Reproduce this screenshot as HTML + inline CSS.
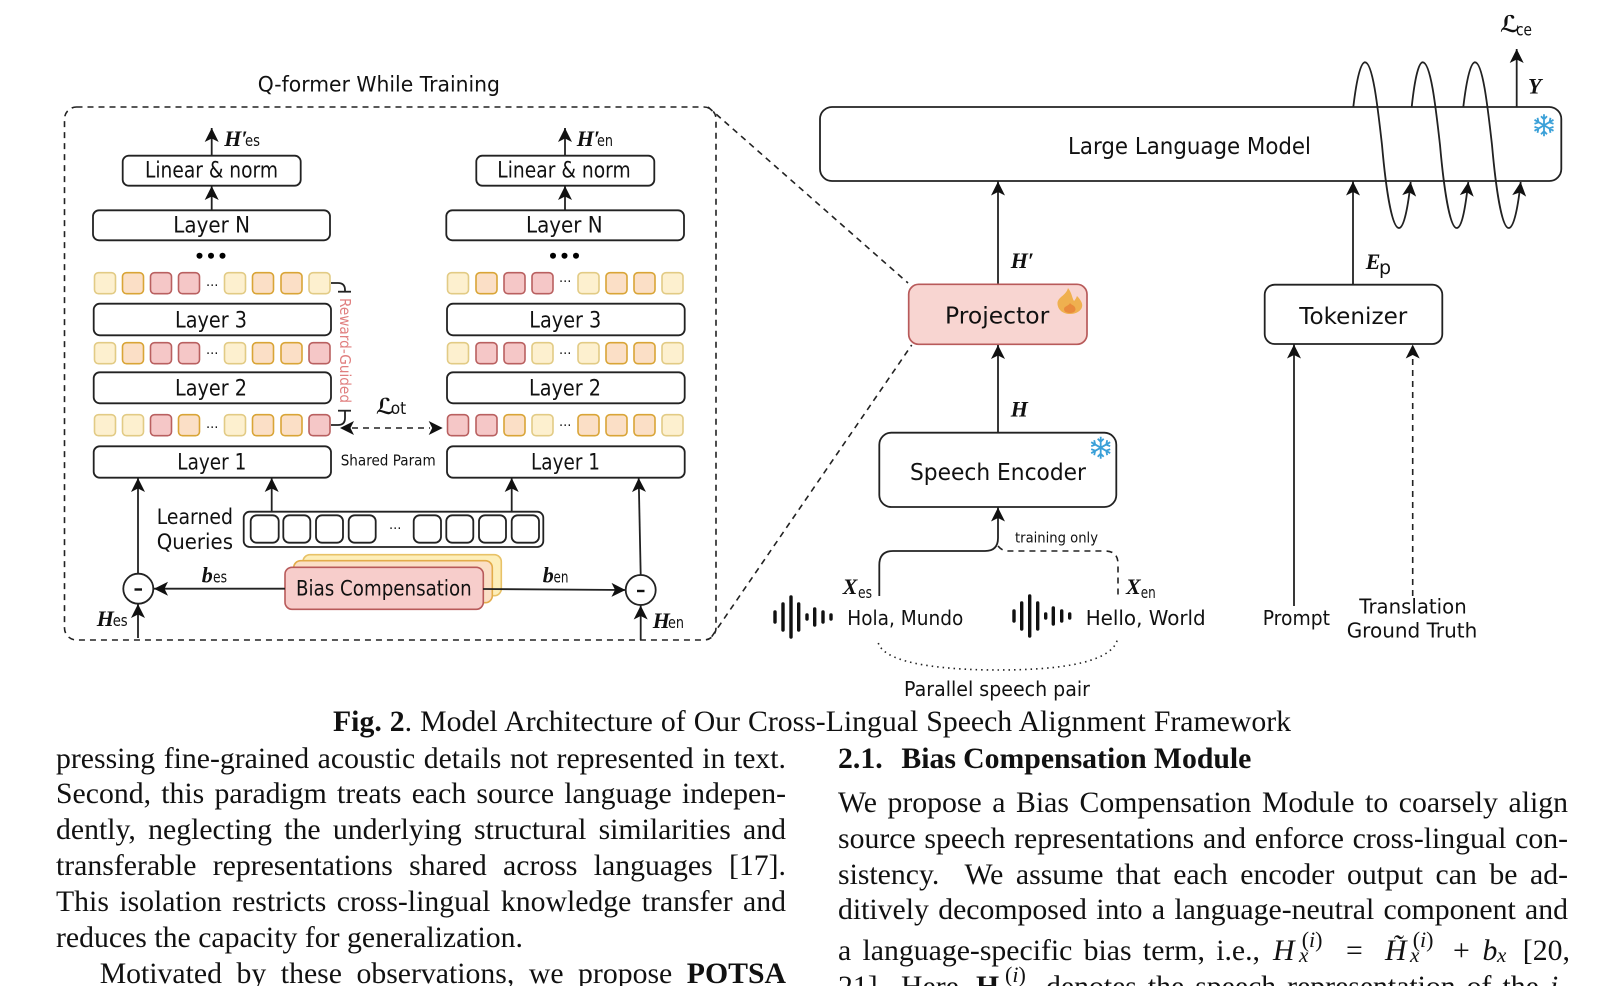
<!DOCTYPE html>
<html><head><meta charset="utf-8">
<style>
html,body{margin:0;padding:0;background:#fff}
#p{position:relative;width:1621px;height:986px;overflow:hidden;background:#fff}
svg{position:absolute;left:0;top:0}
.t{position:absolute;font-family:"Liberation Serif",serif;font-size:29.75px;line-height:36px;height:36px;color:#111;text-align:justify;text-align-last:justify;word-spacing:-4px;overflow:hidden}
.m{position:absolute;font-family:"Liberation Serif",serif;color:#111;white-space:pre;line-height:36px}
.i{font-style:italic}
text{font-family:"DejaVu Sans",sans-serif;fill:#111}
.l{stroke:#222;stroke-width:1.8;fill:none}
.a{stroke:#222;stroke-width:1.8;fill:none;marker-end:url(#ah)}
.d{stroke:#222;stroke-width:1.6;fill:none;stroke-dasharray:6 5}
.b{stroke:#222;stroke-width:1.8;fill:#fff}
.y{fill:#fdf0cf;stroke:#e2cb85;stroke-width:1.6}
.o{fill:#fbdfc6;stroke:#d9a537;stroke-width:1.6}
.r{fill:#f5c7c7;stroke:#b96060;stroke-width:1.6}
.mb{font-family:"Liberation Serif",serif;font-weight:bold;font-style:italic;font-size:22px}
.s{font-size:16px}
.w{stroke:#111;stroke-width:3.4;stroke-linecap:round}
.sf{stroke:#3aa0d8;stroke-width:1.8;fill:none}
</style></head><body><div id="p">
<svg width="1621" height="986" viewBox="0 0 1621 986" xmlns="http://www.w3.org/2000/svg">
<defs>
<marker id="ah" markerUnits="userSpaceOnUse" markerWidth="18" markerHeight="18" refX="15" refY="9" orient="auto">
<path d="M15 9 L1 2 L4.5 9 L1 16 Z" fill="#111"/>
</marker>
</defs>

<!-- frame -->
<rect x="64.5" y="107" width="651.5" height="533" rx="12" class="d"/>
<path d="M708 107 L908 283" class="d"/>
<path d="M711.7 636.7 L911.7 345" class="d"/>
<text x="257.7" y="91.7" font-size="21" textLength="242.3" lengthAdjust="spacingAndGlyphs">Q-former While Training</text>

<!-- left column -->
<path d="M211.7 155.7V128" class="a"/>
<rect x="122.7" y="155.7" width="178" height="30" rx="6" class="b"/>
<text x="145" y="177.5" font-size="22" textLength="133" lengthAdjust="spacingAndGlyphs">Linear &amp; norm</text>
<path d="M211.7 210.3V186" class="a"/>
<rect x="93" y="210.3" width="237" height="30" rx="6" class="b"/>
<text x="173.3" y="232.5" font-size="22" textLength="76.7" lengthAdjust="spacingAndGlyphs">Layer N</text>
<circle cx="199.5" cy="255.7" r="3"/><circle cx="211" cy="255.7" r="3"/><circle cx="222.5" cy="255.7" r="3"/>

<g><rect class="y" x="94.5" y="272.7" width="21" height="21" rx="4"/><rect class="o" x="122.5" y="272.7" width="21" height="21" rx="4"/><rect class="r" x="150.5" y="272.7" width="21" height="21" rx="4"/><rect class="r" x="178.5" y="272.7" width="21" height="21" rx="4"/><rect class="y" x="224.5" y="272.7" width="21" height="21" rx="4"/><rect class="o" x="252.5" y="272.7" width="21" height="21" rx="4"/><rect class="o" x="281" y="272.7" width="21" height="21" rx="4"/><rect class="y" x="309" y="272.7" width="21" height="21" rx="4"/></g>
<text x="206" y="286" font-size="13" font-family="Liberation Sans">...</text>
<rect x="93.7" y="303.7" width="237.3" height="31.6" rx="6" class="b"/>
<text x="175" y="327.7" font-size="22" textLength="72" lengthAdjust="spacingAndGlyphs">Layer 3</text>
<g><rect class="y" x="94.5" y="342.7" width="21" height="21" rx="4"/><rect class="o" x="122.5" y="342.7" width="21" height="21" rx="4"/><rect class="r" x="150.5" y="342.7" width="21" height="21" rx="4"/><rect class="r" x="178.5" y="342.7" width="21" height="21" rx="4"/><rect class="y" x="224.5" y="342.7" width="21" height="21" rx="4"/><rect class="o" x="252.5" y="342.7" width="21" height="21" rx="4"/><rect class="o" x="281" y="342.7" width="21" height="21" rx="4"/><rect class="r" x="309" y="342.7" width="21" height="21" rx="4"/></g>
<text x="206" y="354" font-size="13" font-family="Liberation Sans">...</text>
<rect x="93.7" y="372.3" width="237.3" height="31" rx="6" class="b"/>
<text x="175" y="395.7" font-size="22" textLength="72" lengthAdjust="spacingAndGlyphs">Layer 2</text>
<g><rect class="y" x="94.5" y="414.7" width="21" height="21" rx="4"/><rect class="y" x="122.5" y="414.7" width="21" height="21" rx="4"/><rect class="r" x="150.5" y="414.7" width="21" height="21" rx="4"/><rect class="o" x="178.5" y="414.7" width="21" height="21" rx="4"/><rect class="y" x="224.5" y="414.7" width="21" height="21" rx="4"/><rect class="o" x="252.5" y="414.7" width="21" height="21" rx="4"/><rect class="o" x="281" y="414.7" width="21" height="21" rx="4"/><rect class="r" x="309" y="414.7" width="21" height="21" rx="4"/></g>
<text x="206" y="428" font-size="13" font-family="Liberation Sans">...</text>
<rect x="93.7" y="446.3" width="237.3" height="31.4" rx="6" class="b"/>
<text x="177.3" y="469.3" font-size="22" textLength="69" lengthAdjust="spacingAndGlyphs">Layer 1</text>

<!-- right column -->
<path d="M565 155.7V128" class="a"/>
<rect x="476.3" y="155.7" width="178" height="30" rx="6" class="b"/>
<text x="497.3" y="177.5" font-size="22" textLength="133.4" lengthAdjust="spacingAndGlyphs">Linear &amp; norm</text>
<path d="M565 210.3V186" class="a"/>
<rect x="446.3" y="210.3" width="237.7" height="30" rx="6" class="b"/>
<text x="526" y="232.5" font-size="22" textLength="76.7" lengthAdjust="spacingAndGlyphs">Layer N</text>
<circle cx="553" cy="255.7" r="3"/><circle cx="564.5" cy="255.7" r="3"/><circle cx="576" cy="255.7" r="3"/>
<g><rect class="y" x="447.5" y="272.7" width="21" height="21" rx="4"/><rect class="o" x="476" y="272.7" width="21" height="21" rx="4"/><rect class="r" x="504" y="272.7" width="21" height="21" rx="4"/><rect class="r" x="532" y="272.7" width="21" height="21" rx="4"/><rect class="y" x="578" y="272.7" width="21" height="21" rx="4"/><rect class="o" x="606" y="272.7" width="21" height="21" rx="4"/><rect class="o" x="634" y="272.7" width="21" height="21" rx="4"/><rect class="y" x="662" y="272.7" width="21" height="21" rx="4"/></g>
<text x="559" y="282" font-size="13" font-family="Liberation Sans">...</text>
<rect x="447" y="303.7" width="237.7" height="31.6" rx="6" class="b"/>
<text x="529.3" y="327.7" font-size="22" textLength="72" lengthAdjust="spacingAndGlyphs">Layer 3</text>
<g><rect class="y" x="447.5" y="342.7" width="21" height="21" rx="4"/><rect class="r" x="476" y="342.7" width="21" height="21" rx="4"/><rect class="r" x="504" y="342.7" width="21" height="21" rx="4"/><rect class="y" x="532" y="342.7" width="21" height="21" rx="4"/><rect class="y" x="578" y="342.7" width="21" height="21" rx="4"/><rect class="o" x="606" y="342.7" width="21" height="21" rx="4"/><rect class="o" x="634" y="342.7" width="21" height="21" rx="4"/><rect class="y" x="662" y="342.7" width="21" height="21" rx="4"/></g>
<text x="559" y="354" font-size="13" font-family="Liberation Sans">...</text>
<rect x="447" y="372.3" width="237.7" height="31" rx="6" class="b"/>
<text x="529" y="395.7" font-size="22" textLength="72" lengthAdjust="spacingAndGlyphs">Layer 2</text>
<g><rect class="r" x="447.5" y="414.7" width="21" height="21" rx="4"/><rect class="r" x="476" y="414.7" width="21" height="21" rx="4"/><rect class="o" x="504" y="414.7" width="21" height="21" rx="4"/><rect class="y" x="532" y="414.7" width="21" height="21" rx="4"/><rect class="o" x="578" y="414.7" width="21" height="21" rx="4"/><rect class="o" x="606" y="414.7" width="21" height="21" rx="4"/><rect class="o" x="634" y="414.7" width="21" height="21" rx="4"/><rect class="y" x="662" y="414.7" width="21" height="21" rx="4"/></g>
<text x="559" y="426" font-size="13" font-family="Liberation Sans">...</text>
<rect x="447" y="446.3" width="237.7" height="31.4" rx="6" class="b"/>
<text x="531" y="469.3" font-size="22" textLength="69" lengthAdjust="spacingAndGlyphs">Layer 1</text>

<!-- reward guided -->
<path d="M331 283H338Q345 283 345 290V292" class="l"/>
<path d="M338 291.7H351" class="l"/>
<path d="M338 410.7H351" class="l"/>
<path d="M345 411V418Q345 425 338 425H331" class="l"/>
<text transform="translate(340,298) rotate(90)" x="0" y="0" font-size="15" style="fill:#e07f7f" textLength="105" lengthAdjust="spacingAndGlyphs">Reward-Guided</text>

<!-- L_ot -->
<path d="M352 428H430" class="d"/>
<path d="M340 428 L354 421 L350.5 428 L354 435 Z" fill="#111"/>
<path d="M442.7 428 L428.7 421 L432.2 428 L428.7 435 Z" fill="#111"/>
<text x="376" y="414" font-size="22" font-weight="bold" font-style="italic">ℒ</text>
<text x="390.7" y="414" font-size="17" textLength="15.5" lengthAdjust="spacingAndGlyphs">ot</text>
<text x="340.7" y="465.3" font-size="15" textLength="95" lengthAdjust="spacingAndGlyphs">Shared Param</text>

<!-- learned queries -->
<text x="156.7" y="524" font-size="21" textLength="76.3" lengthAdjust="spacingAndGlyphs">Learned</text>
<text x="156.7" y="549" font-size="21" textLength="76.3" lengthAdjust="spacingAndGlyphs">Queries</text>
<path d="M271.7 511.7V478" class="a"/>
<path d="M511.7 511.7V478" class="a"/>
<path d="M138 573V478" class="a"/>
<path d="M640.7 575L638.7 478" class="a"/>
<rect x="243.7" y="511.7" width="299.6" height="35.3" rx="6" class="b"/>
<rect x="250.7" y="515.3" width="28" height="27.4" rx="6" class="b"/>
<rect x="283.3" y="515.3" width="27" height="27.4" rx="6" class="b"/>
<rect x="316" y="515.3" width="27" height="27.4" rx="6" class="b"/>
<rect x="348.7" y="515.3" width="27" height="27.4" rx="6" class="b"/>
<rect x="413.7" y="515.3" width="27.3" height="27.4" rx="6" class="b"/>
<rect x="446.3" y="515.3" width="27" height="27.4" rx="6" class="b"/>
<rect x="479" y="515.3" width="27" height="27.4" rx="6" class="b"/>
<rect x="511.7" y="515.3" width="27.3" height="27.4" rx="6" class="b"/>
<text x="389" y="529" font-size="13" font-family="Liberation Sans">...</text>

<!-- bias -->
<rect x="303" y="554.7" width="198.3" height="41" rx="7" fill="#fdeeb9" stroke="#e8c267" stroke-width="1.6"/>
<rect x="293.7" y="560.7" width="198.6" height="42" rx="7" fill="#fbdfc6" stroke="#e3ac4a" stroke-width="1.6"/>
<rect x="285" y="567.3" width="198.3" height="42" rx="7" fill="#f7cdcb" stroke="#b85a5a" stroke-width="1.6"/>
<text x="296" y="595.5" font-size="21" textLength="175.7" lengthAdjust="spacingAndGlyphs">Bias Compensation</text>
<path d="M285 588.7H154" class="a"/>
<path d="M483 589L625.5 590" class="a"/>
<circle cx="138.3" cy="588.7" r="15" class="b"/>
<circle cx="640.7" cy="590" r="15" class="b"/>
<path d="M134.5 589.5H142" stroke="#111" stroke-width="2.4"/>
<path d="M637 591H644.5" stroke="#111" stroke-width="2.4"/>
<path d="M138 638V604" class="a"/>
<path d="M640.7 640V605.5" class="a"/>

<!-- math labels left -->
<text x="224.3" y="146" class="mb">H′</text><text x="245" y="146" class="s" textLength="15" lengthAdjust="spacingAndGlyphs">es</text>
<text x="576.7" y="146" class="mb">H′</text><text x="597" y="146" class="s" textLength="16" lengthAdjust="spacingAndGlyphs">en</text>
<text x="201.7" y="582.7" class="mb">b</text><text x="213" y="582.7" class="s" textLength="14" lengthAdjust="spacingAndGlyphs">es</text>
<text x="542.7" y="582.7" class="mb">b</text><text x="553.5" y="582.7" class="s" textLength="15" lengthAdjust="spacingAndGlyphs">en</text>
<text x="96.7" y="626" class="mb">H</text><text x="112.7" y="626" class="s" textLength="15" lengthAdjust="spacingAndGlyphs">es</text>
<text x="652.7" y="628" class="mb">H</text><text x="668" y="628" class="s" textLength="16" lengthAdjust="spacingAndGlyphs">en</text>

<!-- LLM -->
<rect x="820" y="107" width="741.3" height="74" rx="12" class="b"/>
<text x="1068" y="154" font-size="23" textLength="243" lengthAdjust="spacingAndGlyphs">Large Language Model</text>
<path d="M1516.7 107V49" class="a"/>
<text x="1528" y="93.3" class="mb">Y</text>
<text x="1500" y="32" font-size="23" font-weight="bold" font-style="italic">ℒ</text>
<text x="1516" y="35.5" font-size="17" textLength="16" lengthAdjust="spacingAndGlyphs">ce</text>
<path d="M1353.3 107C1357 76 1361 62.3 1365 62.3C1373 62.3 1378 110 1382 145C1386 190 1392 228 1399 228C1404 228 1408 207 1410.7 182" class="a"/>
<path d="M1411.7 107C1415 76 1419 62.3 1422.7 62.3C1431 62.3 1436 110 1440 145C1444 190 1450 228 1456.7 228C1462 228 1465.5 207 1468.3 182" class="a"/>
<path d="M1463.3 107C1467 76 1471 62.3 1475 62.3C1483 62.3 1488 110 1492 145C1496 190 1502 228 1508.7 228C1514 228 1518 207 1520.7 182" class="a"/>
<g class="sf" transform="translate(1544,125.3)"><path d="M0-11V11M-9.5-5.5L9.5 5.5M-9.5 5.5L9.5-5.5M-3-9L0-6L3-9M-3 9L0 6L3 9M-9.5-1.5L-5.5-3L-6.5-7.5M9.5-1.5L5.5-3L6.5-7.5M-9.5 1.5L-5.5 3L-6.5 7.5M9.5 1.5L5.5 3L6.5 7.5"/></g>

<!-- projector -->
<path d="M998 284.3V181.5" class="a"/>
<text x="1010.7" y="268" class="mb">H′</text>
<rect x="908.7" y="284.3" width="178.3" height="60" rx="10" fill="#f8d5d1" stroke="#b85a5a" stroke-width="1.7"/>
<text x="945" y="323.3" font-size="23" textLength="104.3" lengthAdjust="spacingAndGlyphs">Projector</text>
<path d="M1068 288C1072 293 1072 298 1074 301C1076 299 1076.5 297 1077 296C1081 300 1083 304 1082 307C1081 311 1076 314 1070 314C1063 314 1058 310 1057.5 304C1057 297 1066 296 1068 288Z" fill="#efb04f"/>
<path d="M1070 303C1071 305 1075 305 1075.5 309C1075.5 312 1073 313 1070 313C1067 313 1064 312 1064 309C1064 306 1069 306 1070 303Z" fill="#e98a3c"/>
<path d="M998 432.7V345" class="a"/>
<text x="1010.7" y="416.7" class="mb">H</text>

<!-- speech encoder -->
<rect x="879.3" y="432.7" width="237" height="74.3" rx="12" class="b"/>
<text x="910" y="480" font-size="23" textLength="176" lengthAdjust="spacingAndGlyphs">Speech Encoder</text>
<g class="sf" transform="translate(1100.7,447.7)"><path d="M0-11V11M-9.5-5.5L9.5 5.5M-9.5 5.5L9.5-5.5M-3-9L0-6L3-9M-3 9L0 6L3 9M-9.5-1.5L-5.5-3L-6.5-7.5M9.5-1.5L5.5-3L6.5-7.5M-9.5 1.5L-5.5 3L-6.5 7.5M9.5 1.5L5.5 3L6.5 7.5"/></g>
<path d="M879.3 596V565Q879.3 551 893 551H985Q998 551 998 538V507.5" class="a"/>
<path d="M998 546Q1002 551 1008 551H1105Q1118 551 1118 564V596" class="d"/>
<text x="1015" y="542.7" font-size="14" textLength="83" lengthAdjust="spacingAndGlyphs">training only</text>
<text x="842.7" y="594" class="mb">X</text><text x="858" y="598" class="s" textLength="14" lengthAdjust="spacingAndGlyphs">es</text>
<text x="1126" y="594" class="mb">X</text><text x="1140.7" y="598" class="s" textLength="15" lengthAdjust="spacingAndGlyphs">en</text>
<text x="847.3" y="625" font-size="20" textLength="116" lengthAdjust="spacingAndGlyphs">Hola, Mundo</text>
<text x="1085.7" y="625" font-size="20" textLength="120" lengthAdjust="spacingAndGlyphs">Hello, World</text>
<path class="w" d="M775 612V622M783 604V630M791 597V637M798.7 604V630M807 615V619M814.7 609V625M823 612V622M831 615V619"/>
<path class="w" d="M1014 611V621M1021.7 603V629M1029.7 596V636M1037.7 603V629M1045.7 614V618M1053.3 608V624M1061.7 611V621M1069.7 614V618"/>
<path d="M878.3 643C885 665 950 670 998 670C1050 670 1110 665 1117.3 640" fill="none" stroke="#222" stroke-width="1.6" stroke-dasharray="1.5 4"/>
<text x="904" y="696" font-size="20" textLength="186" lengthAdjust="spacingAndGlyphs">Parallel speech pair</text>

<!-- tokenizer -->
<path d="M1353 284.7V181.5" class="a"/>
<text x="1365.7" y="269" class="mb">E</text><text x="1379" y="274" font-size="19">p</text>
<rect x="1264.7" y="284.7" width="177.6" height="59.3" rx="10" class="b"/>
<text x="1299.3" y="324" font-size="23" textLength="108" lengthAdjust="spacingAndGlyphs">Tokenizer</text>
<path d="M1294 606V344.5" class="a"/>
<path d="M1412.7 596V357" class="d"/>
<path d="M1412.7 344.5 L1405.7 358.5 L1412.7 355 L1419.7 358.5 Z" fill="#111"/>
<text x="1262.7" y="625" font-size="20" textLength="67.3" lengthAdjust="spacingAndGlyphs">Prompt</text>
<text x="1359.3" y="613.3" font-size="20" textLength="107.4" lengthAdjust="spacingAndGlyphs">Translation</text>
<text x="1346.7" y="637.3" font-size="20" textLength="130.6" lengthAdjust="spacingAndGlyphs">Ground Truth</text>
</svg>

<!-- body text -->
<div class="t" style="left:333px;top:704px;width:958px"><b>Fig. 2</b>. Model Architecture of Our Cross-Lingual Speech Alignment Framework</div>

<div class="t" style="left:56px;top:741px;width:730px">pressing fine-grained acoustic details not represented in text.</div>
<div class="t" style="left:56px;top:775.5px;width:730px">Second, this paradigm treats each source language indepen-</div>
<div class="t" style="left:56px;top:811.5px;width:730px">dently, neglecting the underlying structural similarities and</div>
<div class="t" style="left:56px;top:847.5px;width:730px">transferable representations shared across languages [17].</div>
<div class="t" style="left:56px;top:883.5px;width:730px">This isolation restricts cross-lingual knowledge transfer and</div>
<div class="t" style="left:56px;top:919.5px;width:467px">reduces the capacity for generalization.</div>
<div class="t" style="left:99.7px;top:955.5px;width:686.3px">Motivated by these observations, we propose <b>POTSA</b></div>

<div class="m" style="left:838px;top:741px;font-size:29.75px;font-weight:bold">2.1.</div>
<div class="t" style="left:901.4px;top:741px;width:350px;font-weight:bold">Bias Compensation Module</div>
<div class="t" style="left:838px;top:784.5px;width:730px">We propose a Bias Compensation Module to coarsely align</div>
<div class="t" style="left:838px;top:820.5px;width:730px">source speech representations and enforce cross-lingual con-</div>
<div class="t" style="left:838px;top:856.5px;width:730px">sistency. &nbsp;We assume that each encoder output can be ad-</div>
<div class="t" style="left:838px;top:891.5px;width:730px">ditively decomposed into a language-neutral component and</div>
<div class="t" style="left:838px;top:932.5px;width:422px">a language-specific bias term, i.e.,</div>
<div class="m i" style="left:1273px;top:932.5px;font-size:29.75px">H</div>
<div class="m" style="left:1301.7px;top:922px;font-size:22px">(<span class="i">i</span>)</div>
<div class="m i" style="left:1299px;top:937px;font-size:21px">x</div>
<div class="m" style="left:1346px;top:932.5px;font-size:29.75px">=</div>
<div class="m i" style="left:1385px;top:932.5px;font-size:29.75px">H̃</div>
<div class="m" style="left:1412.7px;top:922px;font-size:22px">(<span class="i">i</span>)</div>
<div class="m i" style="left:1410px;top:937px;font-size:21px">x</div>
<div class="m" style="left:1453px;top:932.5px;font-size:29.75px">+</div>
<div class="m i" style="left:1482.5px;top:932.5px;font-size:29.75px">b</div>
<div class="m i" style="left:1497px;top:937px;font-size:21px">x</div>
<div class="m" style="left:1522.8px;top:932.5px;font-size:29.75px">[20,</div>
<div class="m" style="left:838px;top:968.5px;font-size:29.75px">21].</div>
<div class="m" style="left:901px;top:968.5px;font-size:29.75px">Here</div>
<div class="m" style="left:976px;top:968.5px;font-size:29.75px;font-weight:bold">H</div>
<div class="m" style="left:1005px;top:957px;font-size:22px">(<span class="i">i</span>)</div>
<div class="t" style="left:1046px;top:968.5px;width:522px">denotes the speech representation of the <span class="i">i</span>-</div>
</div></body></html>
